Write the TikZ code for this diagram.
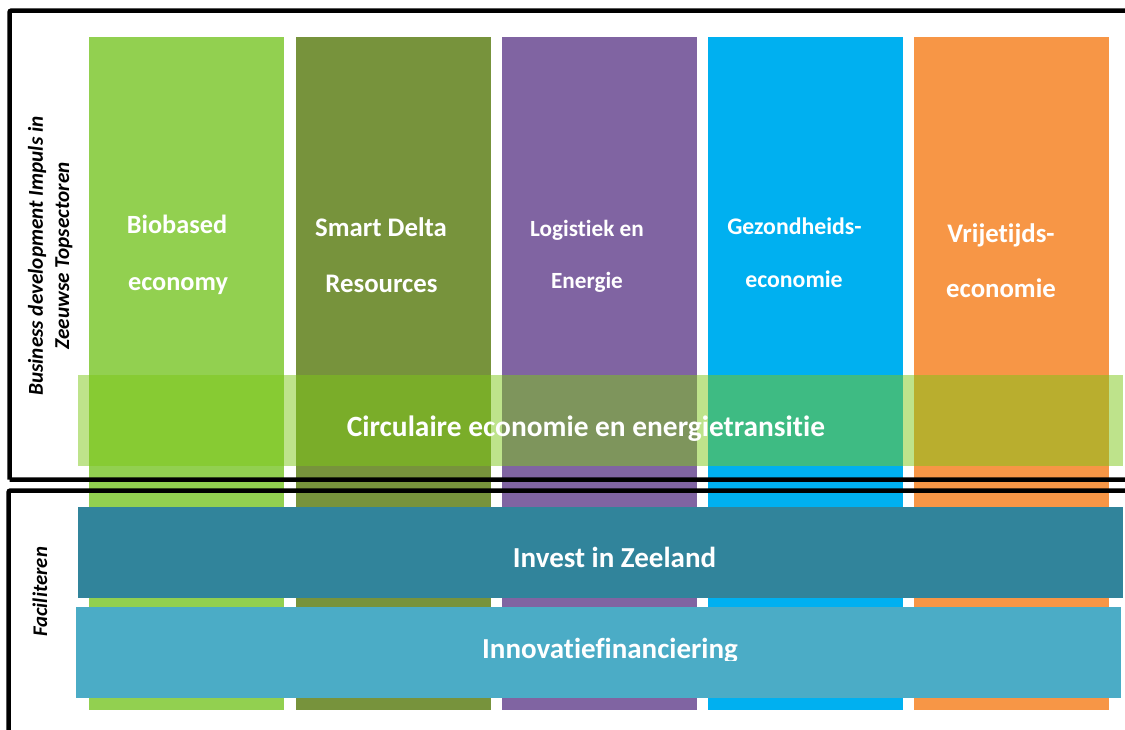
\documentclass[tikz,border=0pt]{standalone}
\usepackage{fontspec}
\setmainfont{Carlito}[Ligatures=NoCommon]
\definecolor{cgreen}{HTML}{92D050}
\definecolor{colive}{HTML}{77933C}
\definecolor{cpurple}{HTML}{8064A2}
\definecolor{cblue}{HTML}{00B0F0}
\definecolor{corange}{HTML}{F79646}
\definecolor{cband}{RGB}{125,199,23}
\definecolor{cinvest}{HTML}{31849B}
\definecolor{cinnov}{HTML}{4BACC6}
\tikzset{
  col/.style={inner sep=0pt, outer sep=0pt, minimum width=195pt, minimum height=673pt, anchor=north west},
  bar/.style={inner sep=0pt, outer sep=0pt, anchor=north west},
  coltext/.style={text=white, font=\bfseries\fontsize{#1}{#1}\selectfont, anchor=base, inner sep=0pt},
  bartext/.style={text=white, font=\bfseries\fontsize{#1}{#1}\selectfont, anchor=base, inner sep=0pt},
  sidetext/.style={text=black, font=\bfseries\itshape\fontsize{#1}{#1}\selectfont, rotate=90, inner sep=0pt},
  frame/.style={draw=black, line width=4.5pt, rounded corners=2pt}
}
\begin{document}
\begin{tikzpicture}[x=1pt,y=-1pt]
\useasboundingbox (0,0) rectangle (1125,729);
% columns
\node[col, fill=cgreen]  (c1) at (89,37) {};
\node[col, fill=colive]  (c2) at (295.5,37) {};
\node[col, fill=cpurple] (c3) at (501.5,37) {};
\node[col, fill=cblue]   (c4) at (708,37) {};
\node[col, fill=corange] (c5) at (914,37) {};
% band
\node[bar, fill=cband, fill opacity=0.5, minimum width=1045pt, minimum height=91pt] (band) at (78,375) {};
% frames
\draw[frame] (9.5,479.5) -- (9.5,10.5) -- (1140,10.5) (9.5,479.5) -- (1140,479.5);
\draw[frame] (8.5,745) -- (8.5,490.5) -- (1140,490.5);
% bars
\node[bar, fill=cinvest, minimum width=1045pt, minimum height=91pt] (invest) at (78,507) {};
\node[bar, fill=cinnov, minimum width=1045pt, minimum height=91pt] (innov) at (76,607) {};
% column texts
\node[coltext=26.3] (t1a) at (177,233) {Biobased};
\node[coltext=26.3] (t1b) at (178,290) {economy};
\node[coltext=26.8] (t2a) at (381,236) {Smart Delta};
\node[coltext=26.8] (t2b) at (381.5,292) {Resources};
\node[coltext=23.2] (t3a) at (587,236) {Logistiek en};
\node[coltext=23.2] (t3b) at (587,288) {Energie};
\node[coltext=23.8] (t4a) at (794.5,234) {Gezondheids-};
\node[coltext=23.8] (t4b) at (794,287) {economie};
\node[coltext=26.8] (t5a) at (1001,242) {Vrijetijds-};
\node[coltext=26.8] (t5b) at (1001,297) {economie};
% bar texts
\node[bartext=29.4] (bandt) at (586,436) {Circulaire economie en energietransitie};
\node[bartext=29] (investt) at (614.5,567) {Invest in Zeeland};
\begin{scope}
\clip (0,0) rectangle (1125,660);
\node[bartext=29] (innovt) at (610,658) {Innovatiefinanciering};
\end{scope}
% side texts
\node[sidetext=21.2] (side1a) at (37,256) {Business development Impuls in};
\node[sidetext=21.2] (side1b) at (64,256) {Zeeuwse Topsectoren};
\node[sidetext=20.8] (side2) at (40,592) {Faciliteren};
\end{tikzpicture}
\end{document}
